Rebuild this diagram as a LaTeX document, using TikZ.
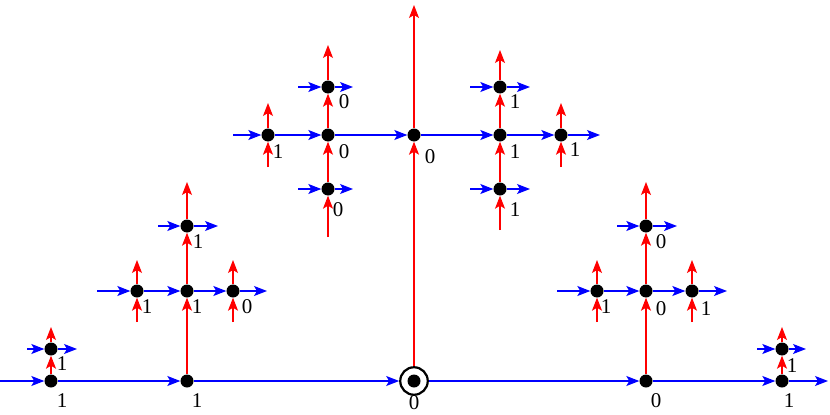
\documentclass[tikz,border=0pt]{standalone}
\usepackage{fontspec}
\setmainfont{Liberation Serif}
\usetikzlibrary{arrows.meta}
\begin{document}
\begin{tikzpicture}[x=1pt,y=-1pt,
 dot/.style={circle,fill=black,inner sep=0pt,minimum size=13pt},
 ring/.style={circle,draw=black,line width=2.2pt,inner sep=0pt,minimum size=27.5pt},
 bl/.style={color=blue,line width=1.1pt,-{Stealth[length=13pt,width=10pt,inset=3pt]}},
 rd/.style={color=red,line width=1.1pt,-{Stealth[length=13pt,width=10pt,inset=3pt]}},
 lab/.style={inner sep=0pt,font=\fontsize{21}{21}\selectfont}]
\useasboundingbox (0,0) rectangle (830,415);
% ---------- bottom row ----------
\node[dot] (B1) at (51,381) {};
\node[dot] (B2) at (187,381) {};
\node[ring] (O) at (414,381) {};
\node[dot] (Oi) at (414,381) {};
\node[dot] (B4) at (646,381) {};
\node[dot] (B5) at (782,381) {};
\coordinate (s0) at (0,381);
\coordinate (e0) at (828,381);
\draw[bl] (s0) -- (B1);
\draw[bl] (B1) -- (B2);
\draw[bl] (B2) -- (O);
\draw[bl] (O) -- (B4);
\draw[bl] (B4) -- (B5);
\draw[bl] (B5) -- (e0);
\node[lab] (lB1) at (62,401) {1};
\node[lab] (lB2) at (197,401) {1};
\node[lab] (lO) at (414,403) {0};
\node[lab] (lB4) at (656,401) {0};
\node[lab] (lB5) at (789,401) {1};
% ---------- small bottom clusters ----------
\node[dot] (L1) at (51,349) {};
\coordinate (L1a) at (27,349);
\coordinate (L1b) at (77,349);
\coordinate (L1c) at (51,327);
\draw[bl] (L1a) -- (L1);
\draw[bl] (L1) -- (L1b);
\draw[rd] (B1) -- (L1);
\draw[rd] (L1) -- (L1c);
\node[lab] (lL1) at (62,364) {1};
\node[dot] (R1) at (782,349) {};
\coordinate (R1a) at (757,349);
\coordinate (R1b) at (806,349);
\coordinate (R1c) at (782,327);
\draw[bl] (R1a) -- (R1);
\draw[bl] (R1) -- (R1b);
\draw[rd] (B5) -- (R1);
\draw[rd] (R1) -- (R1c);
\node[lab] (lR1) at (792,366) {1};
% ---------- left middle cluster ----------
\node[dot] (M) at (187,291) {};
\node[dot] (ML) at (137,291) {};
\node[dot] (MR) at (233,291) {};
\node[dot] (MT) at (187,226) {};
\coordinate (Ma) at (97,291);
\coordinate (Mb) at (267,291);
\coordinate (MTa) at (158,226);
\coordinate (MTb) at (218,226);
\coordinate (Mtop) at (187,182);
\coordinate (MLd) at (137,322);
\coordinate (MLu) at (137,260);
\coordinate (MRd) at (233,322);
\coordinate (MRu) at (233,260);
\draw[bl] (Ma) -- (ML);
\draw[bl] (ML) -- (M);
\draw[bl] (M) -- (MR);
\draw[bl] (MR) -- (Mb);
\draw[bl] (MTa) -- (MT);
\draw[bl] (MT) -- (MTb);
\draw[rd] (B2) -- (M);
\draw[rd] (M) -- (MT);
\draw[rd] (MT) -- (Mtop);
\draw[rd] (MLd) -- (ML);
\draw[rd] (ML) -- (MLu);
\draw[rd] (MRd) -- (MR);
\draw[rd] (MR) -- (MRu);
\node[lab] (lML) at (147,307) {1};
\node[lab] (lM) at (197,307) {1};
\node[lab] (lMR) at (247,307) {0};
\node[lab] (lMT) at (198,242) {1};
% ---------- right middle cluster ----------
\node[dot] (N) at (646,291) {};
\node[dot] (NL) at (597,291) {};
\node[dot] (NR) at (692,291) {};
\node[dot] (NT) at (646,226) {};
\coordinate (Na) at (557,291);
\coordinate (Nb) at (727,291);
\coordinate (NTa) at (617,226);
\coordinate (NTb) at (677,226);
\coordinate (Ntop) at (646,182);
\coordinate (NLd) at (597,322);
\coordinate (NLu) at (597,260);
\coordinate (NRd) at (692,322);
\coordinate (NRu) at (692,260);
\draw[bl] (Na) -- (NL);
\draw[bl] (NL) -- (N);
\draw[bl] (N) -- (NR);
\draw[bl] (NR) -- (Nb);
\draw[bl] (NTa) -- (NT);
\draw[bl] (NT) -- (NTb);
\draw[rd] (B4) -- (N);
\draw[rd] (N) -- (NT);
\draw[rd] (NT) -- (Ntop);
\draw[rd] (NLd) -- (NL);
\draw[rd] (NL) -- (NLu);
\draw[rd] (NRd) -- (NR);
\draw[rd] (NR) -- (NRu);
\node[lab] (lNL) at (606,307) {1};
\node[lab] (lN) at (661,309) {0};
\node[lab] (lNR) at (706,309) {1};
\node[lab] (lNT) at (661,242) {0};
% ---------- centre ----------
\node[dot] (C) at (414,135) {};
\coordinate (Ctop) at (414,5);
\draw[rd] (O) -- (C);
\draw[rd] (C) -- (Ctop);
\node[lab] (lC) at (430,157) {0};
% ---------- top left cluster ----------
\node[dot] (P) at (328,135) {};
\node[dot] (PL) at (268,135) {};
\node[dot] (PT) at (328,87) {};
\node[dot] (PB) at (328,189) {};
\coordinate (Pa) at (233,135);
\coordinate (PTa) at (298,87);
\coordinate (PTb) at (353,87);
\coordinate (PBa) at (298,189);
\coordinate (PBb) at (353,189);
\coordinate (Pbot) at (328,237);
\coordinate (Ptop) at (328,45);
\coordinate (PLd) at (268,167);
\coordinate (PLu) at (268,103);
\draw[bl] (Pa) -- (PL);
\draw[bl] (PL) -- (P);
\draw[bl] (P) -- (C);
\draw[bl] (PTa) -- (PT);
\draw[bl] (PT) -- (PTb);
\draw[bl] (PBa) -- (PB);
\draw[bl] (PB) -- (PBb);
\draw[rd] (Pbot) -- (PB);
\draw[rd] (PB) -- (P);
\draw[rd] (P) -- (PT);
\draw[rd] (PT) -- (Ptop);
\draw[rd] (PLd) -- (PL);
\draw[rd] (PL) -- (PLu);
\node[lab] (lPL) at (278,152) {1};
\node[lab] (lP) at (344,152) {0};
\node[lab] (lPT) at (344,102) {0};
\node[lab] (lPB) at (338,210) {0};
% ---------- top right cluster ----------
\node[dot] (Q) at (500,135) {};
\node[dot] (QR) at (561,135) {};
\node[dot] (QT) at (500,87) {};
\node[dot] (QB) at (500,189) {};
\coordinate (Qb) at (600,135);
\coordinate (QTa) at (470,87);
\coordinate (QTb) at (530,87);
\coordinate (QBa) at (470,189);
\coordinate (QBb) at (530,189);
\coordinate (Qbot) at (500,230);
\coordinate (Qtop) at (500,50);
\coordinate (QRd) at (561,167);
\coordinate (QRu) at (561,103);
\draw[bl] (C) -- (Q);
\draw[bl] (Q) -- (QR);
\draw[bl] (QR) -- (Qb);
\draw[bl] (QTa) -- (QT);
\draw[bl] (QT) -- (QTb);
\draw[bl] (QBa) -- (QB);
\draw[bl] (QB) -- (QBb);
\draw[rd] (Qbot) -- (QB);
\draw[rd] (QB) -- (Q);
\draw[rd] (Q) -- (QT);
\draw[rd] (QT) -- (Qtop);
\draw[rd] (QRd) -- (QR);
\draw[rd] (QR) -- (QRu);
\node[lab] (lQT) at (515,102) {1};
\node[lab] (lQ) at (515,152) {1};
\node[lab] (lQB) at (515,210) {1};
\node[lab] (lQR) at (575,150) {1};
\end{tikzpicture}
\end{document}
